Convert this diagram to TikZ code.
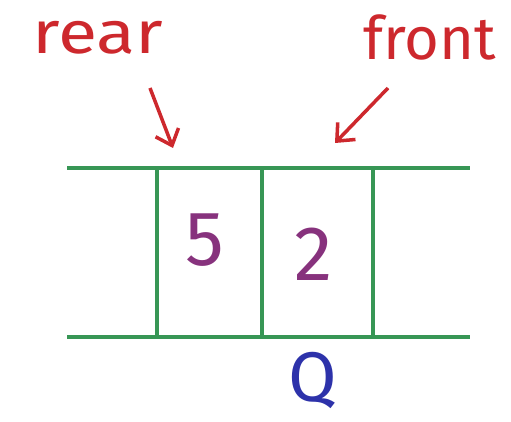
\documentclass[tikz,border=0pt]{standalone}
\usepackage{fontspec}
\setmainfont{Fira Sans}
\definecolor{inkred}{RGB}{205,40,45}
\definecolor{inkgreen}{RGB}{55,150,85}
\definecolor{inkpurple}{RGB}{135,50,125}
\definecolor{inkblue}{RGB}{45,50,170}
\tikzset{
    label/.style={text=inkred, font=\fontsize{34}{40}\selectfont, inner sep=0pt},
    value/.style={text=inkpurple, font=\fontsize{44}{48}\selectfont, inner sep=0pt},
    wall/.style={inkgreen, line width=2.4pt},
    pointer/.style={inkred, line width=2pt, ->, >={Straight Barb[length=8pt,width=14pt]}}
}
\usetikzlibrary{arrows.meta}
\begin{document}
\begin{tikzpicture}[x=0.02cm, y=-0.02cm]
    \useasboundingbox (0,0) rectangle (511,422);

    % Queue walls
    \coordinate (tl) at (67,168);
    \coordinate (tr) at (470,168);
    \coordinate (bl) at (67,337);
    \coordinate (br) at (470,337);
    \draw[wall] (tl) -- (tr);
    \draw[wall] (bl) -- (br);
    \foreach \x in {157,262,373}
        \draw[wall] (\x,168) -- (\x,337);

    % Values
    \node[value] (five) at (205,240) {5};
    \node[value] (two) at (314,254) {2};

    % Labels
    \node[label, xscale=1.2] (rear) at (98,38) {rear};
    \node[label] (front) at (430,37) {front};

    % Pointers
    \coordinate (rs) at (150,88);
    \coordinate (re) at (173,148);
    \coordinate (fs) at (388,88);
    \coordinate (fe) at (335,143);
    \draw[pointer] (rs) -- (re);
    \draw[pointer] (fs) -- (fe);

    % Name
    \node[text=inkblue, font=\fontsize{40}{44}\selectfont, inner sep=0pt] (q) at (313,380) {Q};
\end{tikzpicture}
\end{document}
